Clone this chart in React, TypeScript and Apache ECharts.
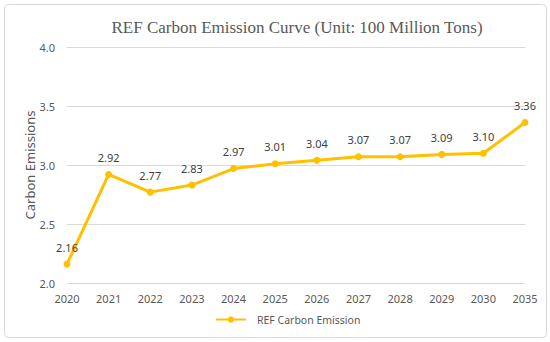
import React, { useEffect, useRef } from "react";
import * as echarts from "echarts";

const years = ["2020", "2021", "2022", "2023", "2024", "2025", "2026", "2027", "2028", "2029", "2030", "2035"];
const emissions = [2.16, 2.92, 2.77, 2.83, 2.97, 3.01, 3.04, 3.07, 3.07, 3.09, 3.1, 3.36];
const seriesName = "REF Carbon Emission";
const titleText = "REF Carbon Emission Curve (Unit: 100 Million Tons)";

export default function App() {
  const ref = useRef<HTMLDivElement>(null);
  useEffect(() => {
    document.body.style.margin = "0";
    const chart = echarts.init(ref.current!, null, { renderer: "svg" });
    chart.setOption({
      animation: false,
      backgroundColor: "#fff",
      title: {
        text: titleText,
        left: 292,
        textAlign: "center",
        top: 14,
        textStyle: { fontFamily: "Liberation Serif", fontSize: 17, fontWeight: "normal", color: "#595959" },
      },
      graphic: [
        {
          type: "rect",
          shape: { x: 4.5, y: 4.5, width: 542, height: 333, r: 4 },
          style: { fill: "none", stroke: "#d9d9d9", lineWidth: 1 },
          silent: true,
        },
      ],
      grid: { left: 67, right: 25, top: 47, bottom: 59 },
      legend: {
        bottom: 12,
        left: 210,
        data: [seriesName],
        itemWidth: 30,
        itemHeight: 8,
        textStyle: { fontFamily: "Noto Sans", fontSize: 10.5, color: "#595959", padding: [0, 0, 0, 6] },
      },
      xAxis: {
        type: "category",
        data: years,
        boundaryGap: false,
        axisLine: { show: false },
        axisTick: { show: false },
        axisLabel: { fontFamily: "Noto Sans", fontSize: 11, color: "#595959", margin: 10 },
      },
      yAxis: {
        type: "value",
        min: 2,
        max: 4,
        interval: 0.5,
        name: "Carbon Emissions",
        nameLocation: "middle",
        nameGap: 31,
        nameMoveOverlap: false,
        nameTextStyle: { fontFamily: "Noto Sans", fontSize: 13, color: "#595959" },
        axisLabel: { fontFamily: "Noto Sans", fontSize: 11, color: "#595959", formatter: (v: number) => v.toFixed(1), margin: 12 },
        splitLine: { lineStyle: { color: "#d9d9d9" } },
      },
      series: [
        {
          name: seriesName,
          type: "line",
          data: emissions,
          symbol: "circle",
          symbolSize: 7,
          lineStyle: { width: 3, color: "#FFC000" },
          itemStyle: { color: "#FFC000" },
          label: {
            show: true,
            position: "top",
            distance: 8,
            formatter: (p: any) => p.value.toFixed(2),
            fontFamily: "Noto Sans",
            fontSize: 11,
            color: "#404040",
          },
        },
      ],
    });
    return () => chart.dispose();
  }, []);
  return <div ref={ref} style={{ position: "fixed", left: 0, top: 0, width: 550, height: 342 }} />;
}
